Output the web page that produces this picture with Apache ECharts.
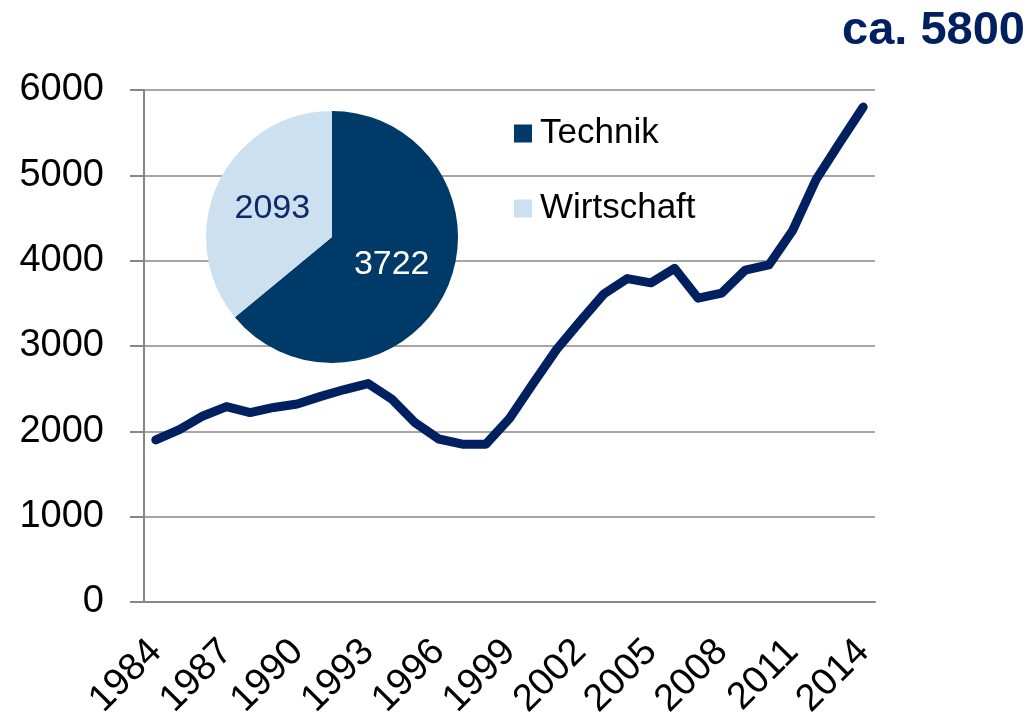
<!DOCTYPE html>
<html>
<head>
<meta charset="utf-8">
<script src="https://cdn.jsdelivr.net/npm/echarts@6/dist/echarts.min.js"></script>
<style>
  html, body { margin: 0; padding: 0; background: #fff; }
  #myChart { width: 1028px; height: 718px; }
</style>
</head>
<body>
<div id="myChart"></div>
<script>
// Jahre und Anzahl
var years = ['1984','1985','1986','1987','1988','1989','1990','1991','1992','1993',
  '1994','1995','1996','1997','1998','1999','2000','2001','2002','2003',
  '2004','2005','2006','2007','2008','2009','2010','2011','2012','2013','2014']
var counts = [1900, 2020, 2180, 2290, 2220, 2280, 2320, 2410, 2490, 2560,
  2380, 2100, 1910, 1850, 1850, 2150, 2560, 2960, 3290, 3610,
  3790, 3740, 3910, 3560, 3620, 3890, 3950, 4350, 4950, 5380, 5800]
// Tortendiagramm
var pieNames = ['Technik', 'Wirtschaft']
var pieValues = [3722, 2093]
var titleText = 'ca. 5800'

var font = '"Liberation Sans", Arial, sans-serif'
var pieColors = ['#003a69', '#cce0f0']
var pieLabelColors = ['#ffffff', '#0d2a66']

var myChart = echarts.init(document.getElementById('myChart'))
myChart.setOption({
  animation: false,
  title: {
    text: titleText,
    right: 3,
    top: 8,
    padding: 0,
    textStyle: { fontFamily: font, fontSize: 47, fontWeight: 'bold', color: '#002060' }
  },
  legend: {
    data: pieNames,
    orient: 'vertical',
    left: 514,
    top: 116,
    padding: 0,
    icon: 'rect',
    itemWidth: 18,
    itemHeight: 18,
    itemGap: 40,
    textStyle: { fontFamily: font, fontSize: 35, color: '#000', padding: [0, 0, 0, 3] }
  },
  grid: { left: 144, right: 153, top: 90, bottom: 116, outerBoundsMode: 'none', containLabel: false },
  xAxis: {
    type: 'category',
    data: years,
    boundaryGap: true,
    axisLine: { lineStyle: { color: '#868686', width: 2 } },
    axisTick: { interval: 2, length: 11, lineStyle: { color: '#868686', width: 2 } },
    axisLabel: { interval: 2, rotate: 45, margin: 44, fontFamily: font, fontSize: 38, color: '#000' },
    splitLine: { show: false }
  },
  yAxis: {
    type: 'value',
    min: 0,
    max: 6000,
    interval: 1000,
    axisLine: { show: true, lineStyle: { color: '#868686', width: 2 } },
    axisTick: { show: true, length: 14, lineStyle: { color: '#868686', width: 2 } },
    axisLabel: {
      margin: 40, fontFamily: font, fontSize: 38, color: '#000',
      formatter: function (v) { return String(v) }
    },
    splitLine: { lineStyle: { color: '#a6a6a6', width: 2 } }
  },
  series: [
    {
      type: 'line',
      data: counts,
      showSymbol: false,
      symbol: 'none',
      lineStyle: { color: '#002060', width: 9, cap: 'round', join: 'round' },
      itemStyle: { color: '#002060' },
      z: 3
    },
    {
      type: 'pie',
      center: [332, 237],
      radius: 126,
      startAngle: 90,
      clockwise: true,
      z: 4,
      data: pieNames.map(function (n, i) {
        return {
          name: n,
          value: pieValues[i],
          itemStyle: { color: pieColors[i] },
          label: { color: pieLabelColors[i] }
        }
      }),
      label: {
        show: true,
        position: 'inside',
        formatter: '{c}',
        fontFamily: font,
        fontSize: 34
      },
      labelLine: { show: false },
      emphasis: { disabled: true }
    }
  ]
})
</script>
</body>
</html>
